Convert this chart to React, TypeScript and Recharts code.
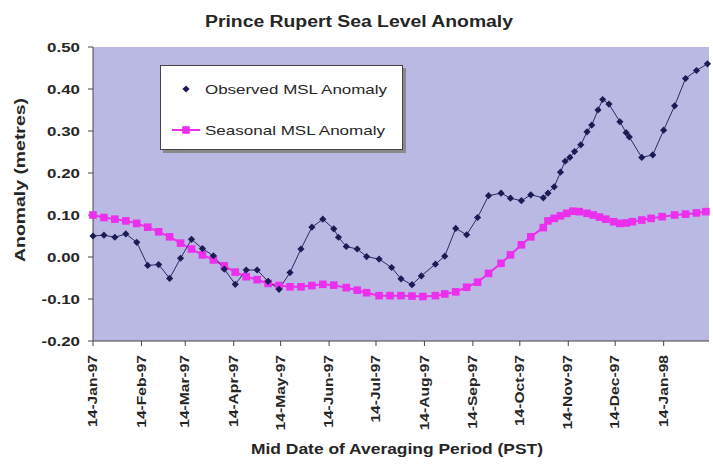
import React from 'react';
import { LineChart, Line, XAxis, YAxis, CartesianGrid, Legend } from 'recharts';

// x values are days after 14-Jan-1997
const tickDays = [0, 31, 59, 90, 120, 151, 181, 212, 243, 273, 304, 334, 365];
const tickLabels = ['14-Jan-97', '14-Feb-97', '14-Mar-97', '14-Apr-97', '14-May-97', '14-Jun-97', '14-Jul-97', '14-Aug-97', '14-Sep-97', '14-Oct-97', '14-Nov-97', '14-Dec-97', '14-Jan-98'];
const yTicks = [-0.2, -0.1, 0, 0.1, 0.2, 0.3, 0.4, 0.5];

const observedDays = [0, 7, 14, 21, 28, 35, 42, 49, 56, 63, 70, 77, 84, 91, 98, 105, 112, 119, 126, 133, 140, 147, 154, 157, 162, 169, 175, 183, 191, 197, 204, 210, 219, 225, 232, 239, 246, 253, 261, 267, 274, 280, 288, 291, 295, 299, 302, 305, 308, 312, 316, 319, 323, 326, 330, 337, 341, 343, 351, 358, 365, 372, 379, 386, 393];
const observedValues = [0.050, 0.052, 0.047, 0.055, 0.035, -0.020, -0.018, -0.051, -0.003, 0.042, 0.020, 0.003, -0.029, -0.065, -0.031, -0.031, -0.058, -0.077, -0.037, 0.019, 0.071, 0.090, 0.067, 0.047, 0.025, 0.019, 0.001, -0.005, -0.025, -0.052, -0.066, -0.045, -0.017, 0.002, 0.068, 0.053, 0.094, 0.146, 0.152, 0.140, 0.134, 0.148, 0.141, 0.152, 0.167, 0.202, 0.228, 0.237, 0.251, 0.267, 0.298, 0.314, 0.350, 0.375, 0.364, 0.322, 0.296, 0.286, 0.237, 0.243, 0.302, 0.360, 0.425, 0.444, 0.460];

const seasonalDays = [0, 7, 14, 21, 28, 35, 42, 49, 56, 63, 70, 77, 84, 91, 98, 105, 112, 119, 126, 133, 140, 147, 154, 162, 169, 175, 183, 190, 197, 204, 211, 219, 225, 232, 239, 246, 253, 261, 267, 274, 280, 288, 291, 295, 299, 303, 307, 311, 316, 320, 324, 328, 333, 337, 341, 345, 351, 357, 364, 372, 379, 386, 392];
const seasonalValues = [0.100, 0.094, 0.090, 0.086, 0.080, 0.071, 0.060, 0.048, 0.033, 0.019, 0.005, -0.007, -0.021, -0.036, -0.047, -0.054, -0.063, -0.068, -0.071, -0.071, -0.068, -0.065, -0.067, -0.073, -0.079, -0.085, -0.092, -0.092, -0.092, -0.093, -0.094, -0.092, -0.088, -0.083, -0.072, -0.060, -0.039, -0.015, 0.005, 0.029, 0.048, 0.070, 0.086, 0.092, 0.098, 0.104, 0.109, 0.108, 0.104, 0.100, 0.095, 0.090, 0.084, 0.080, 0.081, 0.084, 0.088, 0.092, 0.096, 0.100, 0.102, 0.105, 0.108];

const observedName = 'Observed MSL Anomaly';
const seasonalName = 'Seasonal MSL Anomaly';
const titleText = 'Prince Rupert Sea Level Anomaly';
const xTitle = 'Mid Date of Averaging Period (PST)';
const yTitle = 'Anomaly (metres)';

const observedData = observedDays.map((d, i) => ({ day: d, value: observedValues[i] }));
const seasonalData = seasonalDays.map((d, i) => ({ day: d, value: seasonalValues[i] }));

const FONT = "'Liberation Sans', Arial, sans-serif";
const NAVY = '#1c1c55';
const MAGENTA = '#ec2fec';
const TEXT = '#262626';

const XTick = (props: any) => {
  const { x, y, payload } = props;
  const i = tickDays.indexOf(payload.value);
  return (
    <text
      transform={`translate(${x},${y}) rotate(-90) scale(1.3,1)`}
      textAnchor="end"
      dy="0.35em"
      fontSize={12}
      fontWeight="bold"
      fontFamily={FONT}
      fill={TEXT}
    >
      {tickLabels[i]}
    </text>
  );
};

const YTick = (props: any) => {
  const { x, y, payload } = props;
  return (
    <text
      transform={`translate(${x},${y}) scale(1.3,1)`}
      textAnchor="end"
      dy="0.35em"
      fontSize={13}
      fontWeight="bold"
      fontFamily={FONT}
      fill={TEXT}
    >
      {Number(payload.value).toFixed(2)}
    </text>
  );
};

const DiamondDot = (props: any) => {
  const { cx, cy, index } = props;
  if (cx == null || cy == null) return <g key={`od-${index}`} />;
  const r = 3.6;
  return <path key={`od-${index}`} d={`M${cx},${cy - r}L${cx + r},${cy}L${cx},${cy + r}L${cx - r},${cy}Z`} fill={NAVY} />;
};

const SquareDot = (props: any) => {
  const { cx, cy, index } = props;
  if (cx == null || cy == null) return <g key={`sd-${index}`} />;
  return <rect key={`sd-${index}`} x={cx - 3.8} y={cy - 3.8} width={7.6} height={7.6} fill={MAGENTA} />;
};

const LegendBox = () => (
  <svg width={247} height={89} style={{ display: 'block' }}>
    <rect x={3} y={3} width={243} height={85} fill="#8a8a8a" />
    <rect x={0.5} y={0.5} width={242} height={84} fill="#fff" stroke="#444" strokeWidth={1} />
    <path d="M26,20.4L29.6,24L26,27.6L22.4,24Z" fill={NAVY} />
    <text x={45} y={24} dy="0.35em" fontSize={13} fontFamily={FONT} fill={TEXT} textLength={182} lengthAdjust="spacingAndGlyphs">
      {observedName}
    </text>
    <line x1={12} y1={65} x2={40} y2={65} stroke={MAGENTA} strokeWidth={2} />
    <rect x={22.2} y={61.2} width={7.6} height={7.6} fill={MAGENTA} />
    <text x={45} y={65} dy="0.35em" fontSize={13} fontFamily={FONT} fill={TEXT} textLength={180} lengthAdjust="spacingAndGlyphs">
      {seasonalName}
    </text>
  </svg>
);

export default function App() {
  return (
    <div style={{ position: 'relative', width: 713, height: 464, background: '#fff' }}>
      <style>{`body{margin:0;}`}</style>
      <LineChart width={713} height={464} margin={{ top: 47, right: 4, left: 0, bottom: 0 }}>
        <CartesianGrid horizontal={false} vertical={false} fill="#b9b9e4" fillOpacity={1} />
        <XAxis
          dataKey="day"
          type="number"
          domain={[0, 394]}
          ticks={tickDays}
          interval={0}
          tick={<XTick />}
          height={123}
          tickSize={5}
          tickMargin={9}
          axisLine={{ stroke: '#444' }}
          tickLine={{ stroke: '#444' }}
        />
        <XAxis
          xAxisId="top"
          orientation="top"
          type="number"
          domain={[0, 394]}
          height={0}
          tick={false}
          tickLine={false}
          axisLine={{ stroke: '#9a9a9a' }}
        />
        <YAxis
          type="number"
          domain={[-0.2, 0.5]}
          ticks={yTicks}
          interval={0}
          width={93}
          tick={<YTick />}
          tickSize={5}
          tickMargin={8}
          axisLine={{ stroke: '#444' }}
          tickLine={{ stroke: '#444' }}
        />
        <YAxis
          yAxisId="right"
          orientation="right"
          type="number"
          domain={[-0.2, 0.5]}
          width={0}
          tick={false}
          tickLine={false}
          axisLine={{ stroke: '#9a9a9a' }}
        />
        <Legend
          layout="horizontal"
          verticalAlign="middle"
          align="center"
          content={() => <LegendBox />}
          wrapperStyle={{ left: 160, top: 65, width: 247, height: 89 }}
        />
        <Line
          data={seasonalData}
          dataKey="value"
          name={seasonalName}
          stroke={MAGENTA}
          strokeWidth={2}
          dot={SquareDot}
          activeDot={false}
          isAnimationActive={false}
        />
        <Line
          data={observedData}
          dataKey="value"
          name={observedName}
          stroke="#2a2a66"
          strokeWidth={1}
          dot={DiamondDot}
          activeDot={false}
          isAnimationActive={false}
        />
      </LineChart>
      <svg width={713} height={464} style={{ position: 'absolute', left: 0, top: 0, pointerEvents: 'none' }}>
        <text x={359} y={21} dy="0.35em" textAnchor="middle" fontSize={16} fontWeight="bold" fontFamily={FONT} fill={TEXT} textLength={308} lengthAdjust="spacingAndGlyphs">
          {titleText}
        </text>
        <text x={397} y={449} dy="0.35em" textAnchor="middle" fontSize={14} fontWeight="bold" fontFamily={FONT} fill={TEXT} textLength={292} lengthAdjust="spacingAndGlyphs">
          {xTitle}
        </text>
        <text transform="translate(20,180) rotate(-90)" textAnchor="middle" dy="0.35em" fontSize={14} fontWeight="bold" fontFamily={FONT} fill={TEXT} textLength={164} lengthAdjust="spacingAndGlyphs">
          {yTitle}
        </text>
      </svg>
    </div>
  );
}
